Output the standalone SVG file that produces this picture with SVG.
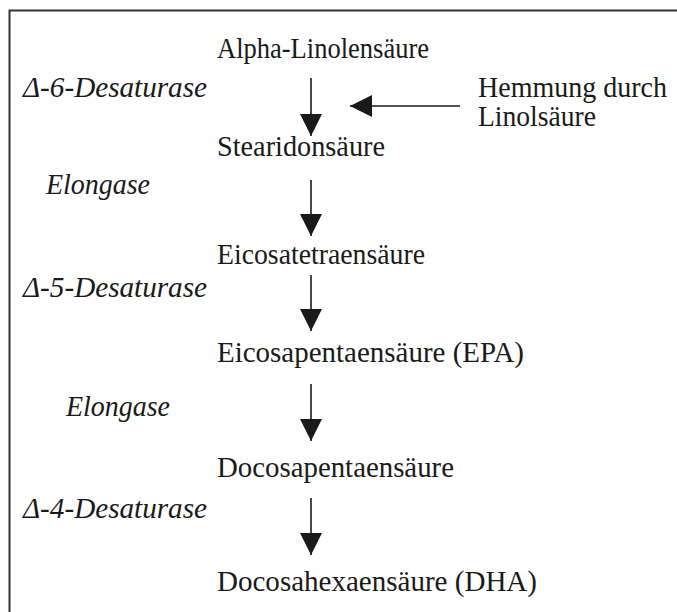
<svg xmlns="http://www.w3.org/2000/svg" width="677" height="612" viewBox="0 0 677 612">
<style>
.n{font-family:"Liberation Serif","Times New Roman",serif;font-size:29.5px;fill:#1a1a1a}
.e{font-family:"Liberation Serif","Times New Roman",serif;font-size:29px;font-style:italic;fill:#1a1a1a}
.c{stroke:#1a1a1a;stroke-width:1.6;fill:none}
</style>
<defs>
<marker id="ah" markerWidth="22" markerHeight="22" viewBox="0 0 22 22" refX="22" refY="11" orient="auto" markerUnits="userSpaceOnUse">
<path d="M0,0 L22,11 L0,22 Z" fill="#1a1a1a"/>
</marker>
</defs>
<rect width="677" height="612" fill="#fff"/>
<path d="M9.5,612 V10.5 H677" stroke="#333" stroke-width="2" fill="none"/>
<g id="connectors">
<line class="c" x1="311" y1="78" x2="311" y2="136" marker-end="url(#ah)"/>
<line class="c" x1="460" y1="106" x2="350" y2="106" marker-end="url(#ah)"/>
<line class="c" x1="311" y1="180" x2="311" y2="236" marker-end="url(#ah)"/>
<line class="c" x1="311" y1="275" x2="311" y2="331" marker-end="url(#ah)"/>
<line class="c" x1="311" y1="384" x2="311" y2="441" marker-end="url(#ah)"/>
<line class="c" x1="311" y1="498" x2="311" y2="555" marker-end="url(#ah)"/>
</g>
<g id="ala"><text class="n" x="217" y="58" textLength="212" lengthAdjust="spacingAndGlyphs">Alpha-Linolensäure</text></g>
<g id="d6"><text class="e" x="23" y="97" textLength="184" lengthAdjust="spacingAndGlyphs">Δ-6-Desaturase</text></g>
<g id="hemmung"><text class="n" x="478" y="97" textLength="189" lengthAdjust="spacingAndGlyphs">Hemmung durch</text><text class="n" x="478" y="126" textLength="118" lengthAdjust="spacingAndGlyphs">Linolsäure</text></g>
<g id="sda"><text class="n" x="217" y="156" textLength="168" lengthAdjust="spacingAndGlyphs">Stearidonsäure</text></g>
<g id="elo1"><text class="e" x="46" y="194" textLength="104" lengthAdjust="spacingAndGlyphs">Elongase</text></g>
<g id="eta"><text class="n" x="217" y="264" textLength="208" lengthAdjust="spacingAndGlyphs">Eicosatetraensäure</text></g>
<g id="d5"><text class="e" x="23" y="297" textLength="184" lengthAdjust="spacingAndGlyphs">Δ-5-Desaturase</text></g>
<g id="epa"><text class="n" x="217" y="362" textLength="307" lengthAdjust="spacingAndGlyphs">Eicosapentaensäure (EPA)</text></g>
<g id="elo2"><text class="e" x="66" y="416" textLength="104" lengthAdjust="spacingAndGlyphs">Elongase</text></g>
<g id="dpa"><text class="n" x="217" y="477" textLength="237" lengthAdjust="spacingAndGlyphs">Docosapentaensäure</text></g>
<g id="d4"><text class="e" x="23" y="518" textLength="184" lengthAdjust="spacingAndGlyphs">Δ-4-Desaturase</text></g>
<g id="dha"><text class="n" x="217" y="591" textLength="320" lengthAdjust="spacingAndGlyphs">Docosahexaensäure (DHA)</text></g>
</svg>
